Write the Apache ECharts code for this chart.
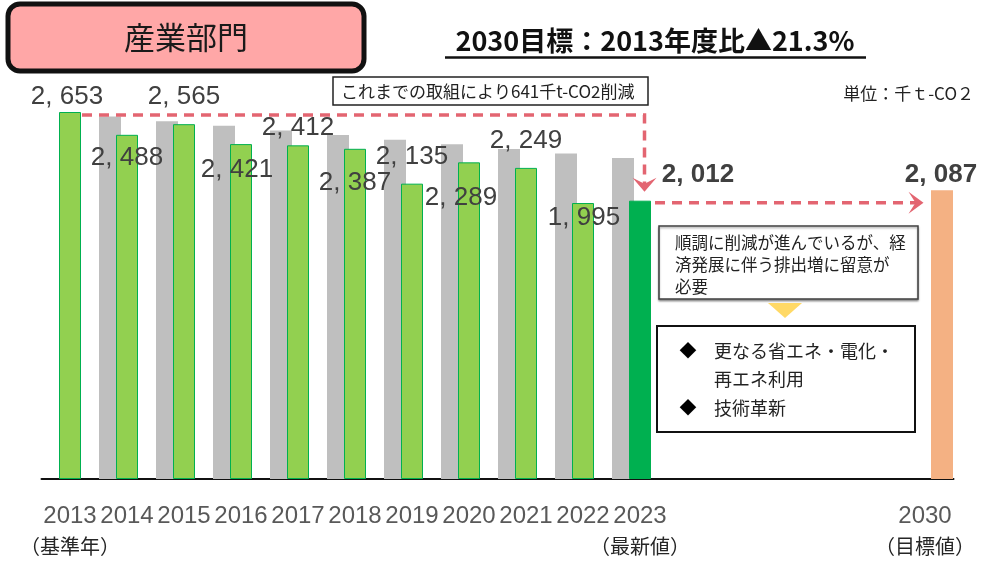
<!DOCTYPE html>
<html>
<head>
<meta charset="utf-8">
<script src="https://cdn.jsdelivr.net/npm/echarts@6/dist/echarts.min.js"></script>
<style>
  html, body { margin: 0; padding: 0; background: #fff; }
  #main { width: 988px; height: 563px; }
</style>
</head>
<body>
<div id="main"></div>
<script>
// 産業部門の排出量（千t-CO2）
var years = ['2013', '2014', '2015', '2016', '2017', '2018', '2019', '2020', '2021', '2022', '2023'];
var targetYear = '2030';
var yearNotes = { '2013': '（基準年）', '2023': '（最新値）', '2030': '（目標値）' };
var actual = [2653, 2488, 2565, 2421, 2412, 2387, 2135, 2289, 2249, 1995, 2012];
var pathway = [null, 2620, 2586, 2553, 2520, 2486, 2453, 2420, 2386, 2353, 2320];  // 灰色の棒
var target = [2087];

var gapSlots = ['', ' ', '  ', '   '];   // 2024〜2029の間を詰めた空き
var categories = years.concat(gapSlots, [targetYear]);

var NUM = "'Liberation Sans',Arial,sans-serif";
var JP = "'Noto Sans CJK JP',sans-serif";

// ラベルの位置ずらし（棒の上端中央から）
var labelShift = [[-3, -15], [0, 23], [0, -27], [-4, 26], [0, -18], [0, 34], [0, -27], [-8, 35], [0, -27], [1, 15], [58, -26]];
var targetShift = [-1, -15];

function fmt(v) {
  return String(v).replace(/\B(?=(\d{3})+(?!\d))/g, ', ');
}

var n = categories.length;
function pad(arr, start) {
  var out = [];
  for (var i = 0; i < n; i++) {
    var v = arr[i - start];
    out.push(v === undefined || v === null ? '-' : v);
  }
  return out;
}

var greenData = pad(actual, 0).map(function(v, i) {
  if (v === '-') return v;
  var last = i === actual.length - 1;
  return {
    value: v,
    itemStyle: last ? { color: '#00B050', borderColor: '#00B050' } : {},
    label: {
      offset: labelShift[i],
      fontWeight: last ? 'bold' : 'normal'
    }
  };
});

var orangeData = pad(target, n - 1).map(function(v) {
  if (v === '-') return v;
  return { value: v, label: { offset: targetShift, fontWeight: 'bold' } };
});

var valueLabel = {
  show: true,
  position: [11, 0],
  align: 'center',
  verticalAlign: 'middle',
  fontFamily: NUM,
  fontSize: 26,
  color: '#404040',
  formatter: function(p) { return fmt(p.value); }
};

var chart = echarts.init(document.getElementById('main'));
chart.setOption({
  animation: false,
  grid: { left: 41.5, right: 34.5, top: 64, bottom: 84 },
  xAxis: {
    type: 'category',
    data: categories,
    axisLine: { lineStyle: { color: '#111', width: 2 } },
    axisTick: { show: false },
    axisLabel: {
      interval: 0,
      margin: 22,
      formatter: function(v) {
        if (!v.trim()) return '';
        var s = '{y|' + v + '}';
        if (yearNotes[v]) s += '\n{s|' + yearNotes[v] + '}';
        return s;
      },
      rich: {
        y: { fontFamily: NUM, fontSize: 24, color: '#595959', lineHeight: 30 },
        s: { fontFamily: JP, fontSize: 20, color: '#262626', lineHeight: 30 }
      }
    }
  },
  yAxis: { type: 'value', min: 0, max: 3000, show: false },
  series: [
    {
      name: 'pathway', type: 'bar', barWidth: 22, barGap: '-22.7%',
      data: pad(pathway, 0),
      itemStyle: { color: '#BFBFBF' }
    },
    {
      name: 'actual', type: 'bar', barWidth: 22, barGap: '-22.7%',
      data: greenData,
      itemStyle: { color: '#92D050', borderColor: '#00B050', borderWidth: 1 },
      label: valueLabel
    },
    {
      name: 'target', type: 'bar', barWidth: 22, barGap: '-22.7%',
      data: orangeData,
      itemStyle: { color: '#F4B183' },
      label: valueLabel
    }
  ]
});

// 注記・矢印
var p13 = chart.convertToPixel({ gridIndex: 0 }, [0, actual[0]]);
var p23 = chart.convertToPixel({ gridIndex: 0 }, [actual.length - 1, actual[actual.length - 1]]);
var p30 = chart.convertToPixel({ gridIndex: 0 }, [n - 1, target[0]]);

var dashRed = '#E36571';
var vx = p23[0] + 4.5;
var hy = p13[1] + 3;
var tipY = p23[1] - 9;
var hy2 = p23[1] + 2;
var tipX = p30[0] - 1.5;

function txt(x, y, text, size, opt) {
  opt = opt || {};
  return {
    type: 'text', z: 100,
    style: {
      x: x, y: y, text: text,
      fontFamily: opt.family || JP, fontSize: size, fontWeight: opt.weight || 'normal',
      fill: opt.color || '#222',
      align: opt.align || 'left', verticalAlign: 'middle',
      textAlign: opt.align || 'left', textVerticalAlign: 'middle'
    }
  };
}

chart.setOption({
  graphic: [
    // タイトル枠
    { type: 'rect', z: 90, shape: { x: 8, y: 4, width: 356, height: 67, r: 12 },
      style: { fill: '#FFA7A7', stroke: '#111', lineWidth: 5 } },
    txt(186, 37, '産業部門', 31, { align: 'center', color: '#1a1a1a' }),

    // 見出し
    txt(655, 41, '2030目標：2013年度比▲21.3%', 27, { align: 'center', weight: 'bold', color: '#111' }),
    { type: 'line', z: 100, shape: { x1: 445, y1: 57.5, x2: 866, y2: 57.5 },
      style: { stroke: '#111', lineWidth: 2.5 } },

    // 単位
    txt(974, 94, '単位：千ｔ-CO２', 17, { align: 'right', color: '#222' }),

    // これまでの取組
    { type: 'rect', z: 95, shape: { x: 333, y: 77, width: 315, height: 28 },
      style: { fill: '#fff', stroke: '#222', lineWidth: 1.5 } },
    txt(341, 92, 'これまでの取組により641千t-CO2削減', 17, { color: '#222' }),

    // 破線矢印（2013→2023）
    { type: 'polyline', z: 98,
      shape: { points: [[p13[0] + 12, hy], [vx, hy], [vx, tipY - 6]] },
      style: { stroke: dashRed, lineWidth: 3.5, lineDash: [10, 7], fill: null } },
    { type: 'polygon', z: 98,
      shape: { points: [[vx, tipY], [vx - 12, tipY - 14], [vx, tipY - 8], [vx + 12, tipY - 14]] },
      style: { fill: dashRed } },

    // 破線矢印（2023→2030）
    { type: 'line', z: 98,
      shape: { x1: p23[0] + 15, y1: hy2, x2: tipX - 7, y2: hy2 },
      style: { stroke: dashRed, lineWidth: 3.5, lineDash: [10, 7] } },
    { type: 'polygon', z: 98,
      shape: { points: [[tipX, hy2], [tipX - 15, hy2 - 11], [tipX - 8, hy2], [tipX - 15, hy2 + 11]] },
      style: { fill: dashRed } },

    // 順調に削減…
    { type: 'rect', z: 95, shape: { x: 659, y: 226, width: 259, height: 73 },
      style: { fill: '#fff', stroke: '#404040', lineWidth: 1.5,
        shadowBlur: 2, shadowOffsetY: 1.5, shadowColor: 'rgba(0,0,0,0.35)' } },
    txt(675, 243, '順調に削減が進んでいるが、経', 16.5, { color: '#222' }),
    txt(675, 265, '済発展に伴う排出増に留意が', 16.5, { color: '#222' }),
    txt(675, 287, '必要', 16.5, { color: '#222' }),

    { type: 'polygon', z: 95, shape: { points: [[768, 303], [802, 303], [785, 318]] },
      style: { fill: '#FFD966' } },

    // 今後の取組
    { type: 'rect', z: 95, shape: { x: 657, y: 326, width: 258, height: 106 },
      style: { fill: '#fff', stroke: '#111', lineWidth: 2 } },
    txt(688, 351, '◆', 17, { align: 'center', color: '#000' }),
    txt(714, 351, '更なる省エネ・電化・', 18, { color: '#222' }),
    txt(714, 379, '再エネ利用', 18, { color: '#222' }),
    txt(688, 408, '◆', 17, { align: 'center', color: '#000' }),
    txt(714, 408, '技術革新', 18, { color: '#222' })
  ]
});
</script>
</body>
</html>
